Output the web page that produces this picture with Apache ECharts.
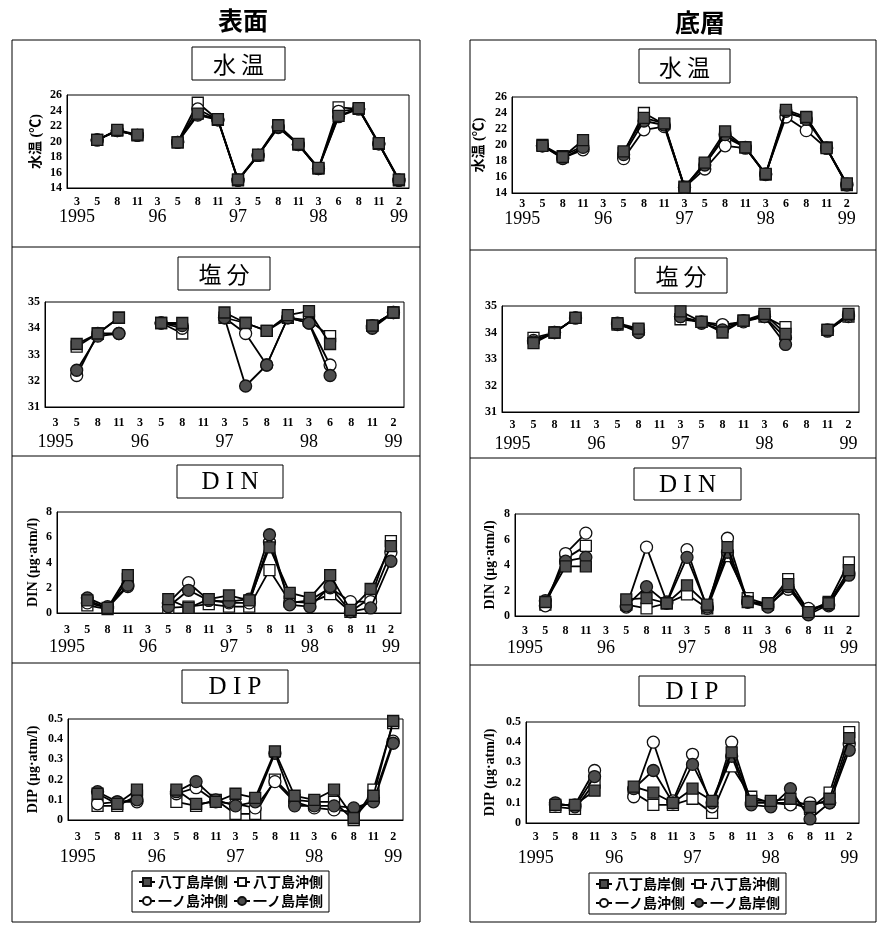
<!DOCTYPE html>
<html>
<head>
<meta charset="utf-8">
<script src="https://cdn.jsdelivr.net/npm/echarts@6/dist/echarts.min.js"></script>
<style>
html, body { margin: 0; padding: 0; background: #fff; }
#main { width: 880px; height: 927px; }
</style>
</head>
<body>
<div id="main"></div>
<script>
// 調査月 (1995.3 ～ 1999.2)
var months = ['3', '5', '8', '11', '3', '5', '8', '11', '3', '5', '8', '11', '3', '6', '8', '11', '2'];
var years = ['1995', '', '', '', '96', '', '', '', '97', '', '', '', '98', '', '', '', '99'];
// 系列: 八丁島岸側, 八丁島沖側, 一ノ島沖側, 一ノ島岸側
var stations = ['八丁島岸側', '八丁島沖側', '一ノ島沖側', '一ノ島岸側'];

// 表面 水温
var surfTemp = [
	[null, 20.2, 21.5, 20.9, null, 19.9, 23.6, 22.9, 15.1, 18.3, 22.1, 19.7, 16.6, 23.3, 24.3, 19.8, 15.1],
	[null, 20.2, 21.4, 20.8, null, 19.9, 25.0, 22.8, 15.0, 18.2, 22.0, 19.6, 16.5, 24.4, 24.2, 19.7, 15.0],
	[null, 20.2, 21.4, 20.8, null, 19.9, 24.2, 22.8, 15.0, 18.2, 21.8, 19.6, 16.5, 23.9, 24.2, 19.7, 15.0],
	[null, 20.2, 21.4, 20.8, null, 19.9, 23.4, 22.8, 15.0, 18.2, 21.9, 19.6, 16.5, 23.2, 24.2, 19.7, 15.0]
];
// 底層 水温
var botTemp = [
	[null, 19.9, 18.5, 20.6, null, 19.2, 23.4, 22.7, 14.7, 17.8, 21.7, 19.7, 16.4, 24.4, 23.5, 19.6, 15.2],
	[null, 20.0, 18.6, 19.9, null, 19.0, 24.0, 22.6, 14.8, 17.6, 21.0, 19.7, 16.3, 24.0, 23.4, 19.7, 15.0],
	[null, 19.9, 18.4, 19.4, null, 18.3, 21.9, 22.3, 14.7, 17.0, 19.9, 19.6, 16.4, 23.5, 21.8, 19.6, 15.0],
	[null, 19.9, 18.3, 19.7, null, 18.8, 23.0, 22.5, 14.7, 17.5, 21.3, 19.7, 16.3, 24.2, 23.2, 19.6, 15.1]
];
// 表面 塩分
var surfSal = [
	[null, 33.4, 33.8, 34.4, null, 34.2, 34.2, null, 34.6, 34.2, 33.9, 34.5, 34.65, 33.4, null, 34.1, 34.6],
	[null, 33.3, 33.8, 34.4, null, 34.2, 33.8, null, 34.4, 34.2, 33.9, 34.4, 34.3, 33.7, null, 34.1, 34.6],
	[null, 32.2, 33.8, 33.8, null, 34.2, 34.0, null, 34.4, 33.8, 32.6, 34.4, 34.2, 32.6, null, 34.1, 34.6],
	[null, 32.4, 33.7, 33.8, null, 34.2, 34.1, null, 34.4, 31.8, 32.6, 34.4, 34.2, 32.2, null, 34.0, 34.6]
];
// 底層 塩分
var botSal = [
	[null, 33.6, 34.0, 34.55, null, 34.35, 34.15, null, 34.8, 34.4, 34.0, 34.45, 34.7, 33.95, null, 34.1, 34.7],
	[null, 33.8, 34.0, 34.55, null, 34.3, 34.1, null, 34.5, 34.4, 34.2, 34.45, 34.6, 34.2, null, 34.1, 34.6],
	[null, 33.7, 34.0, 34.55, null, 34.3, 34.1, null, 34.6, 34.4, 34.3, 34.4, 34.6, 33.8, null, 34.1, 34.6],
	[null, 33.65, 34.0, 34.55, null, 34.35, 34.0, null, 34.6, 34.35, 34.1, 34.45, 34.6, 33.55, null, 34.05, 34.65]
];
// 表面 DIN
var surfDin = [
	[null, 1.0, 0.4, 3.0, null, 1.1, 0.4, 1.1, 1.4, 1.0, 5.2, 1.6, 1.2, 3.0, 0.25, 1.9, 5.3],
	[null, 0.6, 0.3, 2.7, null, 0.4, 0.5, 0.7, 0.5, 0.5, 3.4, 0.9, 0.8, 1.5, 0.1, 1.2, 5.7],
	[null, 0.8, 0.4, 2.1, null, 0.8, 2.4, 1.0, 0.8, 0.8, 5.6, 0.8, 1.0, 2.0, 0.9, 0.9, 4.8],
	[null, 1.2, 0.5, 2.2, null, 0.5, 1.8, 1.0, 0.9, 1.1, 6.2, 0.65, 0.5, 2.1, 0.1, 0.4, 4.1]
];
// 底層 DIN
var botDin = [
	[null, 1.1, 3.9, 3.9, null, 1.3, 1.4, 1.0, 2.4, 0.9, 5.4, 1.1, 1.0, 2.5, 0.3, 1.0, 3.6],
	[null, 0.9, 4.5, 5.5, null, 0.9, 0.6, 1.0, 1.7, 0.6, 4.7, 1.4, 0.9, 2.9, 0.4, 1.1, 4.2],
	[null, 0.8, 4.9, 6.5, null, 0.7, 5.4, 1.1, 5.2, 0.6, 6.1, 1.1, 0.9, 2.1, 0.6, 0.8, 3.4],
	[null, 1.2, 4.3, 4.6, null, 0.8, 2.3, 1.0, 4.6, 0.7, 5.0, 1.1, 0.7, 2.3, 0.1, 0.9, 3.2]
];
// 表面 DIP
var surfDip = [
	[null, 0.13, 0.08, 0.15, null, 0.15, 0.08, 0.09, 0.13, 0.11, 0.34, 0.12, 0.10, 0.15, 0.01, 0.12, 0.49],
	[null, 0.07, 0.07, 0.12, null, 0.09, 0.07, 0.10, 0.03, 0.03, 0.20, 0.10, 0.09, 0.09, 0.00, 0.15, 0.48],
	[null, 0.08, 0.09, 0.09, null, 0.13, 0.16, 0.09, 0.08, 0.06, 0.19, 0.09, 0.06, 0.05, 0.04, 0.11, 0.39],
	[null, 0.14, 0.09, 0.10, null, 0.14, 0.19, 0.10, 0.07, 0.09, 0.33, 0.07, 0.07, 0.07, 0.06, 0.09, 0.38]
];
// 底層 DIP
var botDip = [
	[null, 0.09, 0.09, 0.16, null, 0.18, 0.15, 0.10, 0.17, 0.11, 0.35, 0.11, 0.11, 0.12, 0.08, 0.12, 0.42],
	[null, 0.08, 0.07, 0.20, null, 0.15, 0.09, 0.09, 0.12, 0.05, 0.28, 0.13, 0.10, 0.10, 0.07, 0.15, 0.45],
	[null, 0.09, 0.09, 0.26, null, 0.13, 0.40, 0.11, 0.34, 0.08, 0.40, 0.10, 0.10, 0.09, 0.10, 0.10, 0.39],
	[null, 0.10, 0.08, 0.23, null, 0.17, 0.26, 0.10, 0.29, 0.10, 0.33, 0.09, 0.08, 0.17, 0.02, 0.10, 0.36]
];

// 各パネル (左: 表面, 右: 底層)
var panels = [
	{ title: '水 温', yName: '水温 (℃)', min: 14, max: 26, step: 2, data: surfTemp },
	{ title: '水 温', yName: '水温 (℃)', min: 14, max: 26, step: 2, data: botTemp },
	{ title: '塩 分', yName: '', min: 31, max: 35, step: 1, data: surfSal },
	{ title: '塩 分', yName: '', min: 31, max: 35, step: 1, data: botSal },
	{ title: 'D I N', yName: 'DIN (μg·atm/l)', min: 0, max: 8, step: 2, data: surfDin },
	{ title: 'D I N', yName: 'DIN (μg·atm/l)', min: 0, max: 8, step: 2, data: botDin },
	{ title: 'D I P', yName: 'DIP (μg·atm/l)', min: 0, max: 0.5, step: 0.1, data: surfDip },
	{ title: 'D I P', yName: 'DIP (μg·atm/l)', min: 0, max: 0.5, step: 0.1, data: botDip }
];

// 配置 (px)
var layouts = [
	{ grid: [67, 95, 342, 93], box: [192, 47, 93, 33], monthGap: 14, yearGap: 29, nameGap: 24 },
	{ grid: [512, 97, 345, 96], box: [639, 49, 91, 34], monthGap: 11, yearGap: 26, nameGap: 26 },
	{ grid: [45, 302, 359, 105], box: [178, 257, 92, 33], monthGap: 16, yearGap: 35, nameGap: 20 },
	{ grid: [502, 306, 357, 106], box: [635, 258, 92, 35], monthGap: 13, yearGap: 32, nameGap: 20 },
	{ grid: [57, 512, 344, 101], box: [177, 465, 106, 33], monthGap: 17, yearGap: 34, nameGap: 17 },
	{ grid: [515, 514, 344, 102], box: [634, 468, 107, 32], monthGap: 15, yearGap: 32, nameGap: 18 },
	{ grid: [68, 719, 335, 101], box: [182, 670, 106, 33], monthGap: 17, yearGap: 37, nameGap: 28 },
	{ grid: [526, 722, 333, 101], box: [639, 676, 106, 30], monthGap: 14, yearGap: 35, nameGap: 29 }
];

// マーカー: ■ □ ○ ●
var marks = [
	{ symbol: 'rect', size: 11, fill: '#4d4d4d', z: 5 },
	{ symbol: 'rect', size: 11, fill: '#fff', z: 3 },
	{ symbol: 'circle', size: 12, fill: '#fff', z: 3 },
	{ symbol: 'circle', size: 12, fill: '#4d4d4d', z: 4 }
];

var serif = "'Liberation Serif', 'Noto Sans CJK JP', serif";
var cjk = "'Noto Sans CJK JP', sans-serif";

var myChart = echarts.init(document.getElementById('main'));

var grids = [], xAxes = [], yAxes = [], series = [];
var graphics = [
	{ type: 'rect', shape: { x: 12, y: 40, width: 408, height: 882 }, style: { fill: 'none', stroke: '#000', lineWidth: 1 } },
	{ type: 'rect', shape: { x: 470, y: 40, width: 406, height: 882 }, style: { fill: 'none', stroke: '#000', lineWidth: 1 } },
	{ type: 'line', shape: { x1: 12, y1: 247, x2: 420, y2: 247 }, style: { stroke: '#000', lineWidth: 1 } },
	{ type: 'line', shape: { x1: 12, y1: 456, x2: 420, y2: 456 }, style: { stroke: '#000', lineWidth: 1 } },
	{ type: 'line', shape: { x1: 12, y1: 663, x2: 420, y2: 663 }, style: { stroke: '#000', lineWidth: 1 } },
	{ type: 'line', shape: { x1: 470, y1: 250, x2: 876, y2: 250 }, style: { stroke: '#000', lineWidth: 1 } },
	{ type: 'line', shape: { x1: 470, y1: 458, x2: 876, y2: 458 }, style: { stroke: '#000', lineWidth: 1 } },
	{ type: 'line', shape: { x1: 470, y1: 665, x2: 876, y2: 665 }, style: { stroke: '#000', lineWidth: 1 } },
	{ type: 'text', x: 243, y: 20, style: { text: '表面', font: 'bold 25px ' + cjk, fill: '#000', textAlign: 'center', textVerticalAlign: 'middle' } },
	{ type: 'text', x: 700, y: 22, style: { text: '底層', font: 'bold 25px ' + cjk, fill: '#000', textAlign: 'center', textVerticalAlign: 'middle' } }
];

for (var i = 0; i < panels.length; i++) {
	var p = panels[i];
	var L = layouts[i];
	grids.push({
		left: L.grid[0], top: L.grid[1], width: L.grid[2], height: L.grid[3],
		show: true, borderColor: '#000', borderWidth: 1, backgroundColor: 'transparent',
		outerBoundsMode: 'none'
	});
	// 月
	xAxes.push({
		type: 'category', gridIndex: i, data: months, boundaryGap: true,
		axisLine: { lineStyle: { color: '#000', width: 1 } },
		axisTick: { inside: true, alignWithLabel: true, length: 3, lineStyle: { color: '#000' } },
		axisLabel: { interval: 0, fontSize: 12, fontWeight: 'bold', fontFamily: serif, color: '#000', margin: L.monthGap - 6 },
		splitLine: { show: false }
	});
	// 年
	xAxes.push({
		type: 'category', gridIndex: i, data: years, boundaryGap: true, position: 'bottom', offset: L.yearGap - 9,
		axisLine: { show: false }, axisTick: { show: false },
		axisLabel: { interval: 0, fontSize: 18, fontFamily: serif, color: '#000', margin: 0 },
		splitLine: { show: false }
	});
	yAxes.push({
		type: 'value', gridIndex: i, min: p.min, max: p.max, interval: p.step,
		axisLine: { show: true, lineStyle: { color: '#000', width: 1 } },
		axisTick: { show: false },
		splitLine: { show: false },
		axisLabel: { fontSize: 12, fontWeight: 'bold', fontFamily: serif, color: '#000', margin: 5 },
		name: p.yName, nameLocation: 'middle', nameRotate: 90, nameGap: L.nameGap,
		nameTextStyle: { fontSize: 14, fontWeight: 'bold', fontFamily: serif, color: '#000' }
	});
	for (var s = 0; s < stations.length; s++) {
		series.push({
			name: stations[s], type: 'line', xAxisIndex: 2 * i, yAxisIndex: i,
			data: p.data[s], connectNulls: false, z: marks[s].z,
			symbol: marks[s].symbol, symbolSize: marks[s].size, showAllSymbol: true,
			lineStyle: { color: '#000', width: 1.8 },
			itemStyle: { color: marks[s].fill, borderColor: '#111', borderWidth: 1.3 },
			emphasis: { disabled: true }, animation: false
		});
	}
	graphics.push({ type: 'rect', shape: { x: L.box[0], y: L.box[1], width: L.box[2], height: L.box[3] }, style: { fill: '#fff', stroke: '#000', lineWidth: 1 } });
	graphics.push({
		type: 'text', x: L.box[0] + L.box[2] / 2, y: L.box[1] + L.box[3] / 2 + 1,
		style: { text: p.title, font: (i >= 4 ? '25px ' + serif : '23px ' + cjk), fill: '#000', textAlign: 'center', textVerticalAlign: 'middle' }
	});
}

function legendAt(left, top) {
	return {
		left: left, top: top, width: 194, orient: 'horizontal',
		data: stations, itemWidth: 16, itemHeight: 10, itemGap: 5, padding: [4, 6],
		borderColor: '#000', borderWidth: 1, backgroundColor: '#fff',
		selectedMode: false,
		textStyle: { fontSize: 14, fontWeight: 'bold', fontFamily: cjk, color: '#000', padding: [0, 0, 0, -2] }
	};
}

option = {
	backgroundColor: '#fff',
	animation: false,
	grid: grids,
	xAxis: xAxes,
	yAxis: yAxes,
	legend: [legendAt(132, 871), legendAt(589, 873)],
	graphic: graphics,
	series: series
};

myChart.setOption(option);
</script>
</body>
</html>
